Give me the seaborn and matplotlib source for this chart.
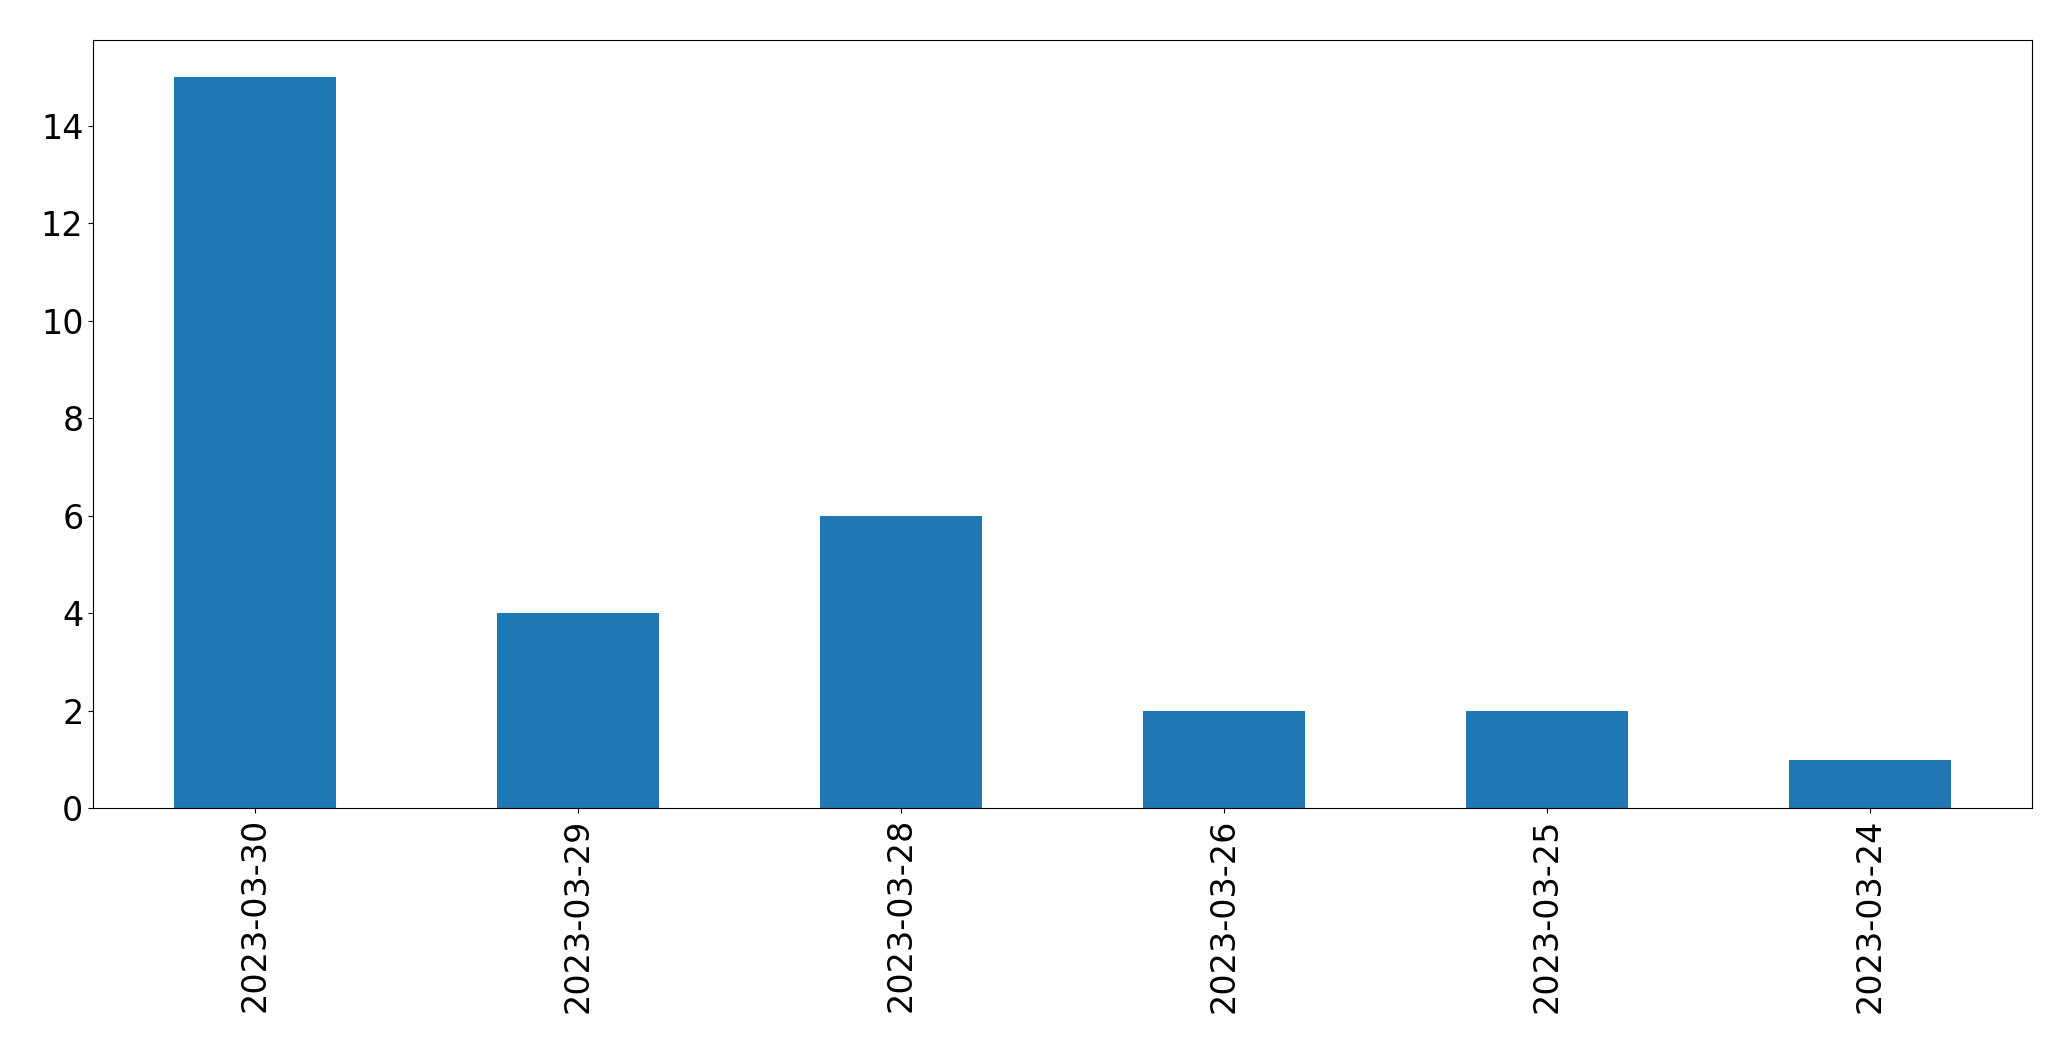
import matplotlib
matplotlib.use("Agg")
import matplotlib.pyplot as plt
import pandas as pd
import seaborn as sns

dates = ['2023-03-30', '2023-03-29', '2023-03-28', '2023-03-26', '2023-03-25', '2023-03-24']
counts = [15, 4, 6, 2, 2, 1]

data = pd.DataFrame({'date': dates, 'count': counts})

fig, ax = plt.subplots(figsize=(20.71, 10.61), dpi=100)
sns.barplot(x='date', y='count', data=data, color='#1f77b4', saturation=1,
            width=0.5, linewidth=0, ax=ax)

ax.set_xlim(-0.5, len(dates) - 0.5)
ax.set_ylim(0, 15.75)
ax.set_xlabel('')
ax.set_ylabel('')
ax.tick_params(axis='both', labelsize=24)
plt.setp(ax.get_xticklabels(), rotation=90)

plt.subplots_adjust(left=0.045, right=0.981, top=0.962, bottom=0.238)
plt.savefig('out.png', dpi=100)
